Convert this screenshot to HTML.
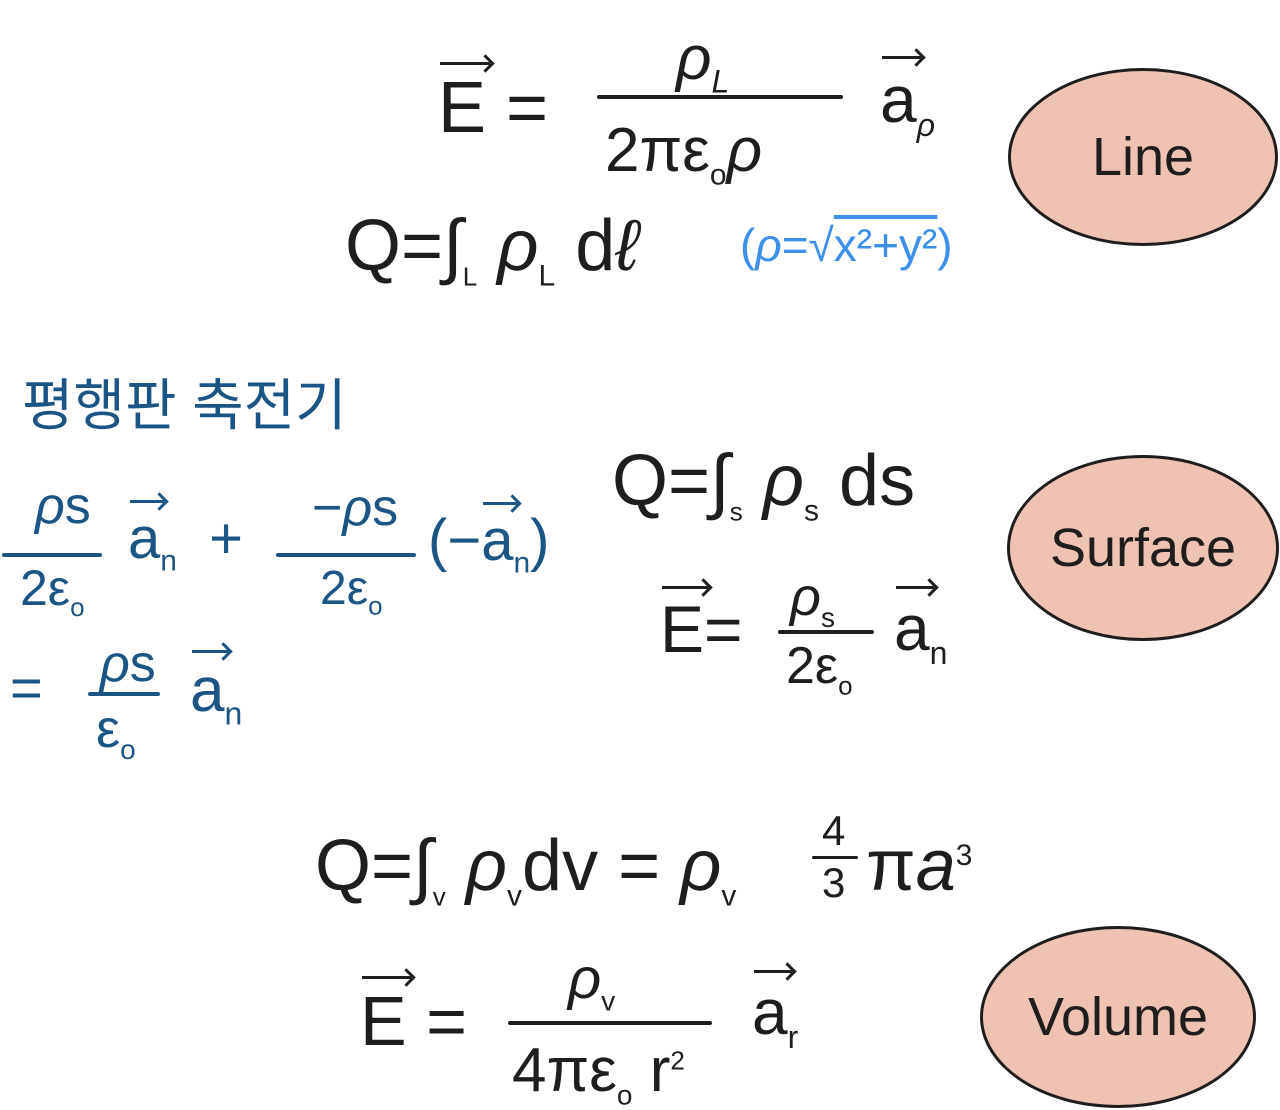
<!DOCTYPE html>
<html><head><meta charset="utf-8"><style>
body{margin:0;width:1280px;height:1110px;background:#fff;position:relative;overflow:hidden;font-family:"Liberation Sans","Noto Sans CJK KR",sans-serif;color:#1e1e1e}
.t{position:absolute;white-space:nowrap;line-height:1}
.bar{position:absolute;height:4px;background:#1e1e1e;border-radius:2px}
.b{color:#1d5486}.b .bar,.bb{background:#1d5486}
.lb{color:#3d8fea}
.ov{position:absolute;border:3px solid #1e1e1e;border-radius:50%;background:#efc3b4;display:flex;align-items:center;justify-content:center;font-size:54px}
.vec{position:relative;display:inline-block}
.vec::before{content:"";position:absolute;left:2px;right:-4px;top:-10px;height:3px;background:currentColor}
.vec::after{content:"";position:absolute;right:-6px;top:-15px;width:10px;height:10px;border-top:3px solid currentColor;border-right:3px solid currentColor;transform:rotate(45deg)}
</style></head><body>
<!-- Line section -->
<div class="t" style="left:438px;top:72px;font-size:72px"><span class="vec">E</span> =</div>
<div class="t" style="left:676px;top:28px;font-size:62px;font-style:italic">ρ<sub style="font-size:32px">L</sub></div>
<div class="bar" style="left:597px;top:95px;width:246px"></div>
<div class="t" style="left:605px;top:120px;font-size:62px">2πε<sub style="font-size:30px">o</sub><i>ρ</i></div>
<div class="t" style="left:880px;top:66px;font-size:66px"><span class="vec">a</span><sub style="font-size:32px"><i>ρ</i></sub></div>
<div class="ov" style="left:1008px;top:68px;width:264px;height:172px">Line</div>
<div class="t" style="left:345px;top:210px;font-size:72px">Q=∫<sub style="font-size:26px">L</sub> <i>ρ</i><sub style="font-size:30px">L</sub> d<i>ℓ</i></div>
<div class="t lb" style="left:740px;top:222px;font-size:46px">(<i>ρ</i>=√<span style="text-decoration:overline">x²+y²</span>)</div>
<!-- Capacitor -->
<div class="t b" style="left:22px;top:378px;font-size:56px">평행판 축전기</div>
<div class="t b" style="left:35px;top:480px;font-size:52px"><i>ρ</i>s</div>
<div class="bar bb" style="left:2px;top:553px;width:100px"></div>
<div class="t b" style="left:20px;top:563px;font-size:50px">2ε<sub style="font-size:26px">o</sub></div>
<div class="t b" style="left:128px;top:510px;font-size:58px"><span class="vec">a</span><sub style="font-size:30px">n</sub> &nbsp;+</div>
<div class="t b" style="left:312px;top:482px;font-size:52px">−<i>ρ</i>s</div>
<div class="bar bb" style="left:276px;top:553px;width:140px"></div>
<div class="t b" style="left:320px;top:565px;font-size:48px">2ε<sub style="font-size:26px">o</sub></div>
<div class="t b" style="left:428px;top:512px;font-size:58px">(−<span class="vec">a</span><sub style="font-size:30px">n</sub>)</div>
<div class="t b" style="left:10px;top:660px;font-size:56px">=</div>
<div class="t b" style="left:100px;top:638px;font-size:52px"><i>ρ</i>s</div>
<div class="bar bb" style="left:88px;top:692px;width:72px"></div>
<div class="t b" style="left:96px;top:702px;font-size:54px">ε<sub style="font-size:28px">o</sub></div>
<div class="t b" style="left:190px;top:660px;font-size:62px"><span class="vec">a</span><sub style="font-size:32px">n</sub></div>
<!-- Surface -->
<div class="t" style="left:612px;top:445px;font-size:72px">Q=∫<sub style="font-size:26px">s</sub> <i>ρ</i><sub style="font-size:30px">s</sub> ds</div>
<div class="t" style="left:660px;top:596px;font-size:66px"><span class="vec">E</span>=</div>
<div class="t" style="left:790px;top:570px;font-size:54px"><i>ρ</i><sub style="font-size:28px">s</sub></div>
<div class="bar" style="left:778px;top:630px;width:96px"></div>
<div class="t" style="left:786px;top:640px;font-size:52px">2ε<sub style="font-size:26px">o</sub></div>
<div class="t" style="left:894px;top:596px;font-size:64px"><span class="vec">a</span><sub style="font-size:32px">n</sub></div>
<div class="ov" style="left:1007px;top:455px;width:266px;height:180px">Surface</div>
<!-- Volume -->
<div class="t" style="left:315px;top:830px;font-size:72px">Q=∫<sub style="font-size:26px">v</sub> <i>ρ</i><sub style="font-size:30px">v</sub>dv = <i>ρ</i><sub style="font-size:30px">v</sub></div>
<div class="t" style="left:822px;top:810px;font-size:42px">4</div>
<div class="bar" style="left:812px;top:856px;width:46px;height:3px"></div>
<div class="t" style="left:822px;top:862px;font-size:42px">3</div>
<div class="t" style="left:866px;top:830px;font-size:72px">π<i>a</i><sup style="font-size:30px">3</sup></div>
<div class="t" style="left:360px;top:986px;font-size:70px"><span class="vec">E</span> =</div>
<div class="t" style="left:568px;top:950px;font-size:58px"><i>ρ</i><sub style="font-size:28px">v</sub></div>
<div class="bar" style="left:508px;top:1021px;width:204px"></div>
<div class="t" style="left:512px;top:1040px;font-size:62px">4πε<sub style="font-size:28px">o</sub> r<sup style="font-size:26px">2</sup></div>
<div class="t" style="left:752px;top:980px;font-size:64px"><span class="vec">a</span><sub style="font-size:32px">r</sub></div>
<div class="ov" style="left:980px;top:926px;width:270px;height:176px">Volume</div>
</body></html>
